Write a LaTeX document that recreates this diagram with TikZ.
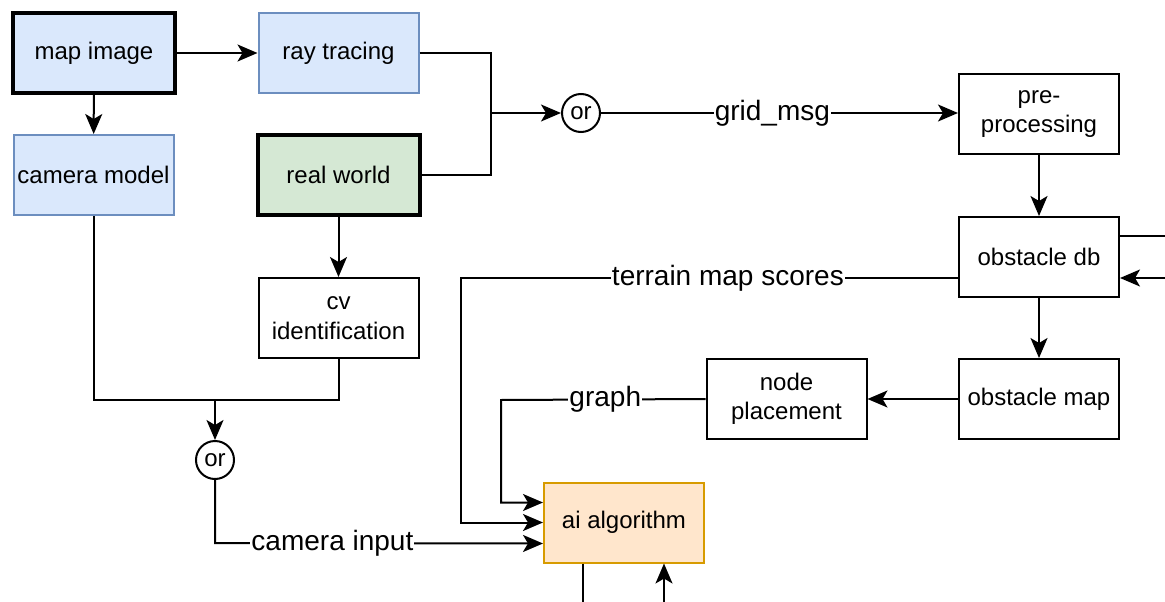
\documentclass[tikz,border=0pt]{standalone}
\usepackage{fontspec}
\setmainfont{Liberation Sans}
\usetikzlibrary{arrows.meta,calc}

\definecolor{bluefill}{HTML}{DAE8FC}
\definecolor{bluedraw}{HTML}{6C8EBF}
\definecolor{greenfill}{HTML}{D5E8D4}
\definecolor{orangefill}{HTML}{FFE6CC}
\definecolor{orangedraw}{HTML}{D79B00}

\tikzset{
  box/.style={draw=black, line width=2pt, fill=white, minimum width=160pt, minimum height=80pt,
    align=center, inner sep=2pt, font=\fontsize{24}{29.5}\selectfont},
  bluebox/.style={box, draw=bluedraw, fill=bluefill},
  heavy/.style={draw=black, line width=4pt},
  greenbox/.style={box, heavy, fill=greenfill},
  orangebox/.style={box, draw=orangedraw, fill=orangefill},
  orcircle/.style={draw=black, line width=2pt, circle, minimum size=38pt, inner sep=0pt,
    fill=white, font=\fontsize{24}{27}\selectfont},
  wire/.style={line width=2pt},
  arr/.style={wire, -{Stealth[length=20pt,width=17pt,inset=5pt]}},
  lbl/.style={fill=white, inner sep=1pt, font=\fontsize{28}{32}\selectfont}
}

\begin{document}
\begin{tikzpicture}[x=1pt,y=-1pt]
  \useasboundingbox (0,0) rectangle (1165,602);

  % blocks
  \node[bluebox, heavy, minimum width=162pt] (map) at (94,53) {map image};
  \node[bluebox] (ray) at (338.5,53) {ray tracing};
  \node[bluebox] (cam) at (93.5,175) {camera model};
  \node[greenbox, minimum width=162pt] (rw) at (338.5,175) {real world};
  \node[box] (cv) at (338.5,318) {cv\\identification};
  \node[box] (pre) at (1039,114) {pre-\\processing};
  \node[box] (odb) at (1039,257) {obstacle db};
  \node[box] (omap) at (1039,399) {obstacle map};
  \node[box] (np) at (786.5,399) {node\\placement};
  \node[orangebox] (ai) at (624,522.5) {ai algorithm};
  \node[orcircle] (or1) at (581,113) {or};
  \node[orcircle] (or2) at (215,460) {or};

  % junctions and loose ends
  \coordinate (j1) at (491,113);
  \coordinate (j2) at (215,400);
  \coordinate (t1) at (461,278);
  \coordinate (g1) at (501,400);
  \coordinate (c1) at (215,543);
  \coordinate (outA) at (1165,236);
  \coordinate (inA) at (1165,278);
  \coordinate (outB) at (583,602);
  \coordinate (inB) at (664,602);

  % connectors
  \draw[arr] (map) -- (ray);
  \draw[arr] (map) -- (cam);
  \draw[wire] (ray.east) -| (j1);
  \draw[wire] (rw.east) -| (j1);
  \draw[arr] (j1) -- (or1.west);
  \draw[arr] (or1.east) -- node[lbl, pos=0.48] {grid\_msg} (pre.west |- or1.east);
  \draw[arr] (pre) -- (odb);
  \draw[arr] (odb) -- (omap);
  \draw[arr] (omap) -- (np);
  \draw[wire] ($(odb.east)+(0,-21)$) -- (outA);
  \draw[arr] (inA) -- ($(odb.east)+(0,21)$);
  \draw[arr] ($(odb.west)+(0,21)$) -- node[lbl, pos=0.463] {terrain map scores} (t1) |- (ai.west);
  \draw[arr] (np.west) -- node[lbl, pos=0.49] {graph} (g1) |- ($(ai.west)+(0,-20)$);
  \draw[arr] (rw) -- (cv);
  \draw[wire] (cam.south) |- (j2);
  \draw[wire] (cv.south) |- (j2);
  \draw[arr] (j2) -- (or2.north);
  \draw[arr] (or2.south) -- (c1) -- node[lbl, pos=0.358] {camera input} ($(ai.west)+(0,21)$);
  \draw[wire] (ai.south -| outB) -- (outB);
  \draw[arr] (inB) -- (ai.south -| inB);
\end{tikzpicture}
\end{document}
